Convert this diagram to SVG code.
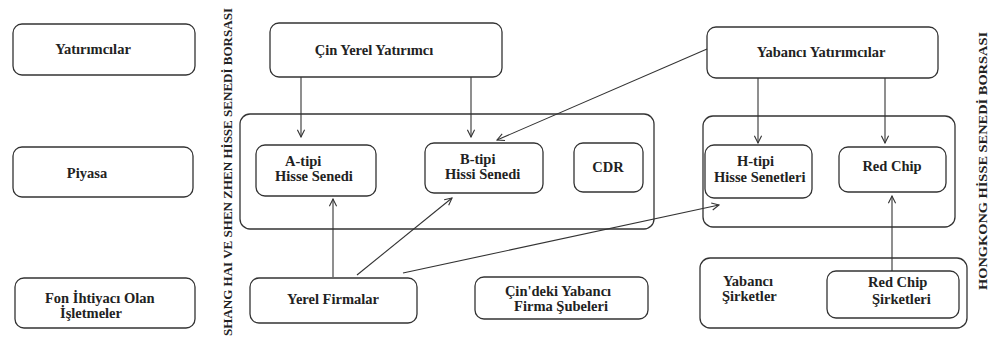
<svg xmlns="http://www.w3.org/2000/svg" width="991" height="339" viewBox="0 0 991 339">
<defs>
<marker id="arr" viewBox="0 0 10 10" refX="9" refY="5" markerWidth="9" markerHeight="9" markerUnits="userSpaceOnUse" orient="auto">
<path d="M1,1 L9,5 L1,9" fill="none" stroke="#333" stroke-width="1.2"/>
</marker>
<style>
.box{fill:#fff;stroke:#333;stroke-width:1.3}
.cont{fill:none;stroke:#333;stroke-width:1.3}
.t{font-family:"Liberation Serif","Times New Roman",serif;font-weight:bold;font-size:14.5px;fill:#222}
.c{text-anchor:middle}
.v{font-family:"Liberation Serif","Times New Roman",serif;font-weight:bold;fill:#222}
.ln{stroke:#333;stroke-width:1.1;fill:none;marker-end:url(#arr)}
</style>
</defs>
<rect width="991" height="339" fill="#fff"/>

<g id="labels-vertical">
<text class="v" font-size="12.5" transform="translate(232,8) rotate(-90)" text-anchor="end" textLength="328" lengthAdjust="spacingAndGlyphs">SHANG HAI VE SHEN ZHEN HİSSE SENEDİ BORSASI</text>
<text class="v" font-size="13.5" transform="translate(987,32) rotate(-90)" text-anchor="end" textLength="258" lengthAdjust="spacingAndGlyphs">HONGKONG HİSSE SENEDİ BORSASI</text>
</g>

<g id="containers">
<rect id="shanghai" class="cont" x="240" y="114" width="414" height="115" rx="10"/>
<rect id="hongkong" class="cont" x="703" y="116" width="252" height="111" rx="10"/>
</g>

<g id="yatirimcilar"><rect class="box" x="13" y="24" width="182" height="51" rx="9"/><text class="t c" x="93" y="54">Yatırımcılar</text></g>
<g id="piyasa"><rect class="box" x="13" y="147" width="180" height="50" rx="9"/><text class="t c" x="87" y="178">Piyasa</text></g>
<g id="fon"><rect class="box" x="15" y="278" width="180" height="50" rx="9"/><text class="t" x="45" y="303">Fon İhtiyacı Olan</text><text class="t" x="60" y="318">İşletmeler</text></g>

<g id="cin-yerel"><rect class="box" x="270" y="23" width="232" height="54" rx="9"/><text class="t c" x="374" y="55">Çin Yerel Yatırımcı</text></g>
<g id="yabanci-yat"><rect class="box" x="707" y="27" width="231" height="51" rx="9"/><text class="t c" x="821" y="57">Yabancı Yatırımcılar</text></g>

<g id="a-tipi"><rect class="box" x="256" y="145" width="120" height="51" rx="9"/><text class="t" x="285" y="166">A-tipi</text><text class="t" x="275" y="181">Hisse Senedi</text></g>
<g id="b-tipi"><rect class="box" x="425" y="143" width="118" height="50" rx="9"/><text class="t" x="460" y="164">B-tipi</text><text class="t" x="445" y="179">Hissi Senedi</text></g>
<g id="cdr"><rect class="box" x="574" y="143" width="69" height="49" rx="9"/><text class="t c" x="608" y="172">CDR</text></g>

<g id="h-tipi"><rect class="box" x="705" y="145" width="107" height="53" rx="9"/><text class="t" x="737" y="166">H-tipi</text><text class="t" x="714" y="182">Hisse Senetleri</text></g>
<g id="red-chip"><rect class="box" x="839" y="147" width="107" height="45" rx="9"/><text class="t c" x="892" y="171">Red Chip</text></g>

<g id="yerel-firmalar"><rect class="box" x="250" y="278" width="167" height="45" rx="9"/><text class="t c" x="333" y="304">Yerel Firmalar</text></g>
<g id="cindeki"><rect class="box" x="475" y="277" width="173" height="42" rx="9"/><text class="t c" x="558" y="296">Çin'deki Yabancı</text><text class="t c" x="561" y="311">Firma Şubeleri</text></g>
<g id="yabanci-sirketler"><rect class="cont" x="700" y="258" width="267" height="70" rx="10"/><text class="t" x="723" y="286">Yabancı</text><text class="t" x="722" y="301">Şirketler</text></g>
<g id="red-chip-sirketleri"><rect class="box" x="827" y="271" width="132" height="47" rx="9"/><text class="t" x="868" y="287">Red Chip</text><text class="t" x="872" y="304">Şirketleri</text></g>

<g id="connectors">
<line class="ln" x1="301" y1="77" x2="301" y2="137"/>
<line class="ln" x1="471" y1="77" x2="471" y2="137"/>
<line class="ln" x1="707" y1="49" x2="497" y2="140"/>
<line class="ln" x1="758" y1="78" x2="758" y2="143"/>
<line class="ln" x1="885" y1="78" x2="885" y2="143"/>
<line class="ln" x1="333" y1="277" x2="333" y2="199"/>
<line class="ln" x1="357" y1="275" x2="452" y2="198"/>
<line class="ln" x1="403" y1="273" x2="719" y2="205"/>
<line class="ln" x1="892" y1="271" x2="892" y2="196"/>
</g>
</svg>
